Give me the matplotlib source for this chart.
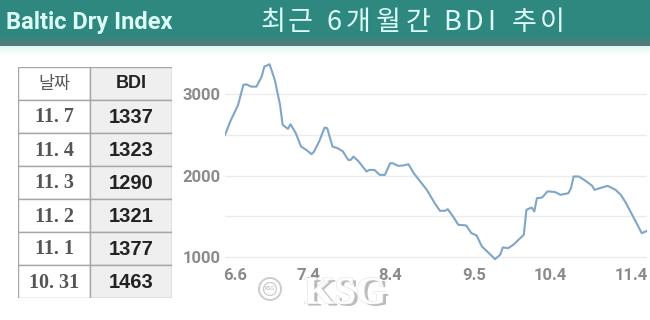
import matplotlib
matplotlib.use("Agg")
import matplotlib.pyplot as plt
import matplotlib.patheffects as pe
from matplotlib.patches import Rectangle, Circle
import numpy as np
import pandas as pd

W, H = 650, 320

# ---- data -------------------------------------------------------------
table_dates = ["11. 7", "11. 4", "11. 3", "11. 2", "11. 1", "10. 31"]
table_bdi = [1337, 1323, 1290, 1321, 1377, 1463]

bdi_dates = [
    "06-02", "06-04", "06-07", "06-09", "06-10", "06-12", "06-14", "06-16",
    "06-17", "06-19", "06-21", "06-23", "06-24", "06-26", "06-27", "06-29",
    "07-01", "07-03", "07-05", "07-06", "07-08", "07-10", "07-11", "07-13",
    "07-15", "07-17", "07-19", "07-20", "07-21", "07-23", "07-26", "07-27",
    "07-29", "07-31", "08-02", "08-04", "08-05", "08-07", "08-09", "08-11",
    "08-13", "08-16", "08-18", "08-21", "08-23", "08-25", "08-26", "08-28",
    "08-30", "09-02", "09-04", "09-06", "09-08", "09-10", "09-12", "09-13",
    "09-15", "09-16", "09-18", "09-20", "09-22", "09-24", "09-25", "09-27",
    "09-28", "09-29", "10-01", "10-03", "10-04", "10-06", "10-08", "10-11",
    "10-12", "10-13", "10-15", "10-17", "10-20", "10-21", "10-23", "10-25",
    "10-26", "10-29", "10-31", "11-02", "11-05", "11-07", "11-08", "11-10",
]
bdi_values = [
    2500, 2665, 2870, 3115, 3123, 3094, 3094, 3217,
    3340, 3368, 3176, 2870, 2624, 2575, 2632, 2522,
    2358, 2317, 2264, 2297, 2427, 2591, 2583, 2358,
    2337, 2297, 2194, 2194, 2235, 2174, 2051, 2071,
    2071, 2010, 2010, 2153, 2153, 2121, 2125, 2141,
    2031, 1908, 1826, 1663, 1569, 1569, 1589, 1499,
    1397, 1389, 1294, 1266, 1131, 1070, 1008, 975,
    1029, 1119, 1110, 1151, 1213, 1274, 1581, 1609,
    1560, 1724, 1732, 1806, 1806, 1798, 1765, 1785,
    1847, 1990, 1990, 1949, 1879, 1826, 1847, 1867,
    1875, 1826, 1765, 1663, 1479, 1356, 1294, 1323,
]
tick_dates = ["06-06", "07-04", "08-04", "09-05", "10-04", "11-04"]
tick_labels = ["6.6", "7.4", "8.4", "9.5", "10.4", "11.4"]
y_ticks = [1000, 1500, 2000, 2500, 3000]
y_labels = ["1000", "", "2000", "", "3000"]

# ---- style ------------------------------------------------------------
KR = ["Noto Sans CJK KR", "DejaVu Sans"]
HEAD_TXT = "#dcfbf6"
AXIS_TXT = "#8a8a8a"
LINE_C = "#7fa5c8"


def px_axes(fig, x0, y0, x1, y1):
    """Add an axes given in pixel box (top-left origin)."""
    return fig.add_axes([x0 / W, 1 - y1 / H, (x1 - x0) / W, (y1 - y0) / H])


fig = plt.figure(figsize=(W / 100, H / 100), dpi=100)
fig.patch.set_facecolor("white")

# ---- header band ------------------------------------------------------
hax = px_axes(fig, 0, 0, W, 56)
hax.set_axis_off()
top = np.array([0x2e, 0x88, 0x80]) / 255
low = np.array([0x55, 0x7b, 0x7b]) / 255
glow = np.array([0xe2, 0xf6, 0xf3]) / 255
rows = []
for i in range(56):
    if i < 34:
        c = top
    elif i < 46:
        t = (i - 34) / 11
        c = top * (1 - t) + low * t
    else:
        t = (i - 46) / 9
        c = glow * (1 - t) + np.ones(3) * t
    rows.append(c)
grad = np.array(rows)[:, None, :].repeat(2, axis=1)
hax.imshow(grad, aspect="auto", extent=(0, W, 56, 0))
hax.set_xlim(0, W)
hax.set_ylim(56, 0)

hax.text(6, 23, "Baltic Dry Index", color=HEAD_TXT, fontsize=17,
         fontweight="bold", family="Roboto", va="center", ha="left")

# title is letter-spaced, so each glyph is placed on its own
title_chars = ["최", "근", "6", "개", "월", "간", "B", "D", "I", "추", "이"]
title_x = [273, 300, 334, 358, 388, 418, 452, 474, 491, 524, 552]
for ch, cx in zip(title_chars, title_x):
    hax.text(cx, 23, ch, color=HEAD_TXT, fontsize=19.5, family=KR,
             fontweight="medium", va="center", ha="center")

# ---- table ------------------------------------------------------------
tax = px_axes(fig, 18, 67, 172, 298)
tax.set_axis_off()
tax.set_xlim(0, 154)
tax.set_ylim(231, 0)
col_w = [72, 82]
row_h = 33
border = "#a6a6a6"
n_rows = len(table_dates) + 1
for r in range(n_rows):
    y = r * row_h
    tax.add_patch(Rectangle((0, y), col_w[0], row_h, facecolor="white",
                            edgecolor=border, lw=1))
    tax.add_patch(Rectangle((col_w[0], y), col_w[1], row_h, facecolor="#efefef",
                            edgecolor=border, lw=1))
cx0 = col_w[0] / 2
cx1 = col_w[0] + col_w[1] / 2
tax.text(cx0, row_h / 2, "날짜", family=KR, fontsize=12.5, color="#595959",
         ha="center", va="center")
tax.text(cx1, row_h / 2, "BDI", family="Liberation Sans", fontsize=13,
         fontweight="bold", color="#222222", ha="center", va="center")
for i, (d, v) in enumerate(zip(table_dates, table_bdi)):
    yc = (i + 1.5) * row_h
    tax.text(cx0, yc + 1, d, family="Liberation Serif", fontsize=14.5,
             fontweight="bold", color="#555555", ha="center", va="center")
    tax.text(cx1, yc + 1, str(v), family="Liberation Sans", fontsize=14.5,
             fontweight="bold", color="#222222", ha="center", va="center")

# ---- line chart -------------------------------------------------------
ax = px_axes(fig, 225, 56, 647, 262)
dates = pd.to_datetime(["2022-" + d for d in bdi_dates])
ax.plot(dates, bdi_values, color=LINE_C, lw=1.5, solid_joinstyle="round",
        zorder=3)
ax.set_ylim(940, 3470)
ax.set_xlim(dates[0], dates[-1])
ax.set_yticks(y_ticks)
ax.set_yticklabels(y_labels)
ax.set_xticks(pd.to_datetime(["2022-" + d for d in tick_dates]))
ax.set_xticklabels(tick_labels)
ax.grid(axis="y", color="#ececec", lw=1)
ax.set_axisbelow(True)
for s in ax.spines.values():
    s.set_visible(False)
ax.tick_params(length=0, labelcolor=AXIS_TXT, labelsize=12)
ax.tick_params(axis="y", pad=3)
ax.tick_params(axis="x", pad=4)
for lab in ax.get_xticklabels() + ax.get_yticklabels():
    lab.set_family("Roboto")
    lab.set_fontweight("bold")
ax.set_facecolor("none")

# ---- KSG watermark ----------------------------------------------------
wax = px_axes(fig, 0, 0, W, H)
wax.set_axis_off()
wax.set_xlim(0, W)
wax.set_ylim(H, 0)
wax.text(345, 294, "KSG", family="Liberation Serif", fontsize=28,
         fontweight="bold", color="white", ha="center", va="center",
         path_effects=[pe.withSimplePatchShadow(offset=(2.5, -1.5),
                                                shadow_rgbFace="#b4b4b4",
                                                alpha=0.9),
                       pe.Stroke(linewidth=0.8, foreground="#e2e2e2"),
                       pe.Normal()])
wax.add_patch(Circle((270, 289), 11, facecolor="white", edgecolor="#cccccc",
                     lw=1.4, zorder=4))
wax.add_patch(Circle((270, 289), 6.5, facecolor="white", edgecolor="#cccccc",
                     lw=0.9, zorder=5))
wax.text(270, 289, "KSG", fontsize=3.5, color="#b0b0b0", ha="center",
         va="center", zorder=6)

fig.savefig("out.png", dpi=100)
